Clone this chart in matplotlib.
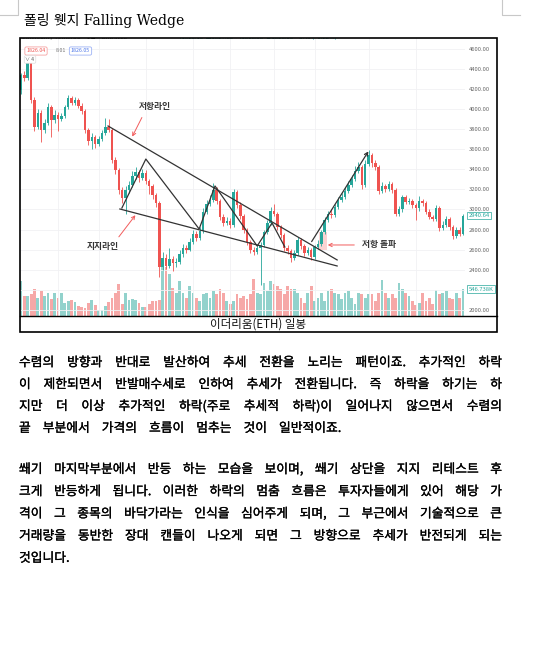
import numpy as np
import matplotlib.pyplot as plt
import matplotlib.patheffects as pe
from matplotlib.patches import Rectangle
from matplotlib.lines import Line2D
from matplotlib import transforms

plt.rcParams['font.family'] = ['Noto Sans CJK KR', 'DejaVu Sans']

# ---- data (ETH daily) ----
first_open = 4190
closes = [4340, 4310, 4455, 4090, 3820, 3960, 3790, 3860, 4020, 3890,
          3940, 3900, 3930, 4020, 4110, 4060, 4090, 4030, 3980, 3790,
          3680, 3720, 3650, 3700, 3760, 3820, 3790, 3490, 3390, 3190,
          3110, 3190, 3240, 3330, 3370, 3310, 3360, 3280, 3230, 3140,
          3060, 2430, 2520, 2440, 2510, 2470, 2480, 2560, 2620, 2600,
          2680, 2760, 2720, 2790, 2980, 3050, 3090, 3190, 3080, 2930,
          2870, 2890, 2850, 3170, 3040, 2940, 2800, 2680, 2600, 2580,
          2620, 2650, 2780, 2870, 2990, 2960, 2830, 2750, 2620, 2590,
          2520, 2570, 2700, 2640, 2570, 2600, 2530, 2630, 2660, 2780,
          2900, 2960, 2950, 3020, 3090, 3120, 3180, 3240, 3300, 3380,
          3420, 3240, 3450, 3540, 3460, 3420, 3180, 3230, 3200, 3250,
          3190, 2960, 3000, 3120, 3070, 3080, 3040, 3010, 3080, 3060,
          2980, 2930, 2910, 3010, 2820, 2850, 2910, 2830, 2740, 2800,
          2760, 2940]
highs = [4360, 4380, 4480, 4470, 4120, 4000, 3990, 3900, 4060, 4040,
         3990, 3970, 3960, 4040, 4140, 4130, 4120, 4110, 4060, 4000,
         3810, 3760, 3740, 3730, 3790, 3910, 3900, 3810, 3520, 3410,
         3220, 3230, 3280, 3380, 3420, 3390, 3400, 3390, 3300, 3250,
         3160, 3080, 2580, 2560, 2620, 2540, 2520, 2600, 2660, 2650,
         2720, 2800, 2790, 2830, 3010, 3090, 3140, 3260, 3220, 3100,
         2960, 2930, 2920, 3200, 3190, 3070, 2960, 2820, 2700, 2630,
         2650, 2680, 2800, 2900, 3020, 3050, 2980, 2850, 2770, 2650,
         2610, 2600, 2730, 2720, 2660, 2630, 2620, 2650, 2700, 2800,
         2930, 2990, 3000, 3050, 3120, 3160, 3220, 3280, 3340, 3430,
         3470, 3440, 3490, 3590, 3560, 3490, 3440, 3270, 3250, 3280,
         3270, 3210, 3030, 3140, 3140, 3110, 3100, 3060, 3130, 3100,
         3080, 3000, 2950, 3040, 3030, 2890, 2940, 2930, 2850, 2830,
         2830, 2960]
lows = [4150, 4280, 4290, 4060, 3780, 3800, 3670, 3760, 3840, 3720,
        3860, 3780, 3880, 3910, 4000, 4040, 4040, 4010, 3950, 3760,
        3640, 3600, 3610, 3630, 3680, 3740, 3770, 3460, 3350, 3150,
        3060, 2960, 3160, 3220, 3300, 3270, 3290, 3250, 3150, 3100,
        3020, 2330, 2400, 2410, 2420, 2390, 2430, 2460, 2530, 2570,
        2590, 2660, 2690, 2700, 2770, 2960, 3030, 3070, 3050, 2900,
        2840, 2850, 2820, 2830, 3010, 2910, 2770, 2650, 2570, 2550,
        2560, 2250, 2630, 2760, 2850, 2940, 2800, 2720, 2590, 2560,
        2480, 2500, 2550, 2610, 2540, 2550, 2500, 2510, 2610, 2640,
        2760, 2880, 2920, 2930, 3000, 3070, 3100, 3160, 3220, 3280,
        3360, 3200, 3220, 3430, 3420, 3390, 3150, 3160, 3170, 3180,
        3160, 2940, 2940, 2980, 3050, 3050, 3010, 2900, 2990, 3030,
        2960, 2910, 2890, 2890, 2790, 2800, 2830, 2800, 2710, 2720,
        2740, 2750]
volumes_k = [720, 420, 420, 460, 560, 380, 520, 420, 480, 360,
             480, 380, 480, 280, 320, 340, 300, 220, 200, 180,
             280, 340, 240, 140, 140, 220, 300, 380, 480, 660,
             260, 480, 340, 360, 340, 280, 200, 200, 260, 320,
             320, 340, 1020, 1000, 860, 580, 480, 720, 480, 380,
             620, 480, 380, 320, 460, 480, 380, 520, 460, 560,
             480, 320, 260, 320, 460, 380, 420, 360, 460, 760,
             480, 460, 680, 520, 720, 660, 620, 560, 460, 620,
             560, 560, 480, 380, 280, 480, 620, 320, 380, 480,
             320, 520, 560, 480, 460, 360, 480, 520, 380, 260,
             480, 460, 380, 460, 460, 320, 480, 740, 480, 380,
             460, 380, 680, 560, 480, 420, 320, 240, 280, 480,
             320, 380, 260, 540, 460, 480, 520, 380, 360, 480,
             380, 547]
price_ticks = [2000, 2200, 2400, 2600, 2800, 3000, 3200, 3400, 3600,
               3800, 4000, 4200, 4400, 4600]
last_price = 2940.64
last_volume_k = 546.738

opens = [first_open] + closes[:-1]
n = len(closes)
idx = np.arange(n)
up = np.array(closes) >= np.array(opens)

W, H = 537, 649
fig = plt.figure(figsize=(W / 100, H / 100), dpi=100)
fig.patch.set_facecolor('white')


def fx(x):
    return x / W


def fy(y):
    return 1 - y / H


GREEN = '#26a69a'
RED = '#ef5350'

# pixel layout of the embedded screenshot
L, R, T, B = 19.5, 465, 38, 316.5
step = (463 - 21) / (n - 1)
rect = [fx(L), fy(B), (R - L) / W, (B - T) / H]

axv = fig.add_axes(rect, zorder=1)
ax = fig.add_axes(rect, zorder=2, sharex=axv)
ax.patch.set_alpha(0)

# volume
vcol = np.where(up, GREEN, RED)
axv.bar(idx, volumes_k, width=0.82, color=vcol, alpha=0.5, linewidth=0)
axv.set_ylim(0, (B - T) * 20.2)
axv.axis('off')

# grid
for gx in [11, 23, 37, 51, 62, 75, 87, 103, 117]:
    ax.axvline(gx, color='#f1f1f4', lw=0.6, zorder=0)
for p in price_ticks:
    ax.axhline(p, color='#f1f1f4', lw=0.6, zorder=0)

# breakout highlight
ax.add_patch(Rectangle((88.3, 2600), 2.5, 175, facecolor='#f9c9c9',
                       edgecolor='none', alpha=0.8, zorder=1))

# candles
ccol = np.where(up, GREEN, RED)
ax.vlines(idx, lows, highs, colors=ccol, lw=0.6, zorder=2)
bottoms = np.minimum(opens, closes)
heights = np.maximum(np.abs(np.array(closes) - np.array(opens)), 10)
ax.bar(idx, heights, bottom=bottoms, width=0.74, color=ccol,
       linewidth=0, zorder=3)

ax.set_xlim(-(21 - L) / step, (R - 21) / step)
ax.set_ylim(2000 - (B - 310) / 0.1005, 2000 + (310 - T) / 0.1005)
for s in ax.spines.values():
    s.set_visible(False)
ax.set_xticks([])
ax.set_yticks(price_ticks)
ax.set_yticklabels(['' if p == 2200 else f'{p:.2f}' for p in price_ticks])
ax.yaxis.tick_right()
ax.tick_params(axis='y', length=0, pad=3, labelsize=4.2, labelcolor='#666')

# wedge drawing
dark = '#333333'
ax.plot([25.8, 93.7], [3831, 2498], color=dark, lw=0.9, zorder=5)
ax.plot([29.3, 93.7], [3005, 2438], color=dark, lw=0.9, zorder=5)
ax.plot([29.9, 37.0, 52.8, 57.5, 70.0, 74.4, 78.2],
        [3015, 3502, 2806, 3234, 2637, 2866, 2627],
        color=dark, lw=0.9, zorder=5)
ax.annotate('', xy=(103.4, 3602), xytext=(85.7, 2657),
            arrowprops=dict(arrowstyle='->', color=dark, lw=0.9,
                            mutation_scale=6), zorder=5)

pink = '#f25c5c'
ax.text(39.7, 4020, '저항라인', fontsize=6.3, fontweight='bold',
        color=dark, ha='center', va='center', zorder=6)
ax.annotate('', xy=(32.6, 3701), xytext=(36.2, 3940),
            arrowprops=dict(arrowstyle='->', color=pink, lw=0.7,
                            mutation_scale=6), zorder=6)
ax.text(24.3, 2627, '지지라인', fontsize=6.3, fontweight='bold',
        color=dark, ha='center', va='center', zorder=6)
ax.annotate('', xy=(34.4, 2965), xytext=(28.5, 2706),
            arrowprops=dict(arrowstyle='->', color=pink, lw=0.7,
                            mutation_scale=6), zorder=6)
ax.text(106.0, 2647, '저항 돌파', fontsize=6.3, fontweight='bold',
        color=dark, ha='center', va='center', zorder=6)
ax.annotate('', xy=(90.1, 2647), xytext=(99.6, 2647),
            arrowprops=dict(arrowstyle='->', color=pink, lw=0.7,
                            mutation_scale=6), zorder=6)

# right side value tags
tr = transforms.blended_transform_factory(ax.transAxes, ax.transData)
ax.text(1 + 3.5 / (R - L), last_price, f'{last_price:.2f}', transform=tr,
        fontsize=4.2, color=GREEN, va='center', ha='left', clip_on=False,
        bbox=dict(boxstyle='square,pad=0.25', fc='white', ec=GREEN, lw=0.5))
trv = transforms.blended_transform_factory(axv.transAxes, axv.transData)
axv.text(1 + 3.5 / (R - L), last_volume_k, f'{last_volume_k:.3f}K',
         transform=trv, fontsize=4.2, color=GREEN, va='center', ha='left',
         clip_on=False,
         bbox=dict(boxstyle='square,pad=0.25', fc='white', ec=GREEN, lw=0.5))

# tradingview header (top is cut off in the screenshot)
ax.text(fx(22), fy(37.3), 'Ethereum / TetherUS · 1일 · BINANCE',
        transform=fig.transFigure, fontsize=4.3, color='#444',
        va='center', clip_on=True)
ax.text(fx(176), fy(37.3),
        '시1823.13  고1827.83  저1818.38  종1826.05  +3.43 (+0.22%)',
        transform=fig.transFigure, fontsize=4.3, color=GREEN,
        va='center', clip_on=True)
ax.text(fx(36), fy(51), '1826.04', transform=fig.transFigure, fontsize=3.8,
        color=RED, ha='center', va='center',
        bbox=dict(boxstyle='round,pad=0.3', fc='white', ec='#f5a3a3', lw=0.6))
ax.text(fx(61), fy(51), '8.01', transform=fig.transFigure, fontsize=3.8,
        color='#777', ha='center', va='center')
ax.text(fx(80.5), fy(51), '1826.05', transform=fig.transFigure, fontsize=3.8,
        color='#4a74e8', ha='center', va='center',
        bbox=dict(boxstyle='round,pad=0.3', fc='white', ec='#9db3f5', lw=0.6))
ax.text(fx(30), fy(59.5), '∨ 4', transform=fig.transFigure, fontsize=3.6,
        color='#555', ha='center', va='center',
        bbox=dict(boxstyle='round,pad=0.25', fc='white', ec='#ddd', lw=0.5))

# frame around screenshot + caption row
fig.add_artist(Rectangle((fx(19.5), fy(332)), (497 - 19.5) / W, (332 - 38) / H,
                         transform=fig.transFigure, fill=False, ec='black',
                         lw=1.2, zorder=10))
fig.add_artist(Line2D([fx(19.5), fx(497)], [fy(316.5), fy(316.5)],
                      transform=fig.transFigure, color='black', lw=1.0,
                      zorder=10))
fig.text(fx(258), fy(324), '이더리움(ETH) 일봉', fontsize=8.3, color='#111',
         ha='center', va='center')

# page corner marks
cm = '#c8c8c8'
fig.add_artist(Line2D([fx(0), fx(18), fx(18)], [fy(15), fy(15), fy(0)],
                      transform=fig.transFigure, color=cm, lw=0.8))
fig.add_artist(Line2D([fx(502), fx(502), fx(520)], [fy(0), fy(15), fy(15)],
                      transform=fig.transFigure, color=cm, lw=0.8))

# title
fig.text(fx(24), fy(21), '폴링 웻지 Falling Wedge', fontsize=10,
         family=['DejaVu Serif', 'Noto Sans CJK KR'], color='#000',
         ha='left', va='center')

# body text, justified like the document
para1 = ['수렴의 방향과 반대로 발산하여 추세 전환을 노리는 패턴이죠. 추가적인 하락',
         '이 제한되면서 반발매수세로 인하여 추세가 전환됩니다. 즉 하락을 하기는 하',
         '지만 더 이상 추가적인 하락(주로 추세적 하락)이 일어나지 않으면서 수렴의',
         '끝 부분에서 가격의 흐름이 멈추는 것이 일반적이죠.']
para2 = ['쐐기 마지막부분에서 반등 하는 모습을 보이며, 쐐기 상단을 지지 리테스트 후',
         '크게 반등하게 됩니다. 이러한 하락의 멈춤 흐름은 투자자들에게 있어 해당 가',
         '격이 그 종목의 바닥가라는 인식을 심어주게 되며, 그 부근에서 기술적으로 큰',
         '거래량을 동반한 장대 캔들이 나오게 되면 그 방향으로 추세가 반전되게 되는',
         '것입니다.']

renderer = fig.canvas.get_renderer()
TL, TR = 19, 502
bold_fx = [pe.withStroke(linewidth=0.2, foreground='black')]


def body_line(line, y, justify):
    words = line.split(' ')
    texts = [fig.text(0, fy(y), w, fontsize=9.2, color='#000',
                      ha='left', va='center', path_effects=bold_fx)
             for w in words]
    widths = [t.get_window_extent(renderer).width for t in texts]
    if justify and len(words) > 1:
        gap = (TR - TL - sum(widths)) / (len(words) - 1)
    else:
        gap = 12
    x = TL
    for t, w in zip(texts, widths):
        t.set_x(fx(x))
        x += w + gap


for k, line in enumerate(para1):
    body_line(line, 362.7 + k * 21.9, k < len(para1) - 1)
for k, line in enumerate(para2):
    body_line(line, 469.5 + k * 22.2, k < len(para2) - 1)

fig.savefig('out.png', dpi=100)
